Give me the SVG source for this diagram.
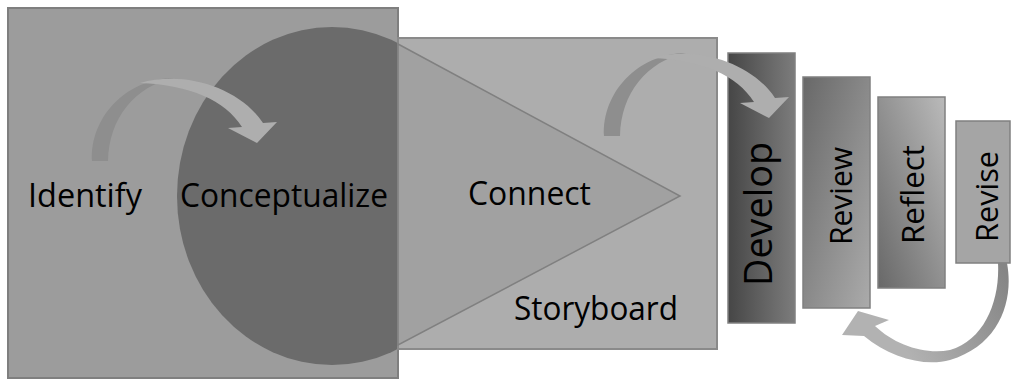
<svg xmlns="http://www.w3.org/2000/svg" width="1011" height="379" viewBox="0 0 1011 379">
<defs>
<linearGradient id="gDev" x1="0" y1="0" x2="1" y2="0"><stop offset="0" stop-color="#464646"/><stop offset="1" stop-color="#7c7c7c"/></linearGradient>
<linearGradient id="gRev" x1="0" y1="0" x2="1" y2="1"><stop offset="0" stop-color="#686868"/><stop offset="1" stop-color="#ababab"/></linearGradient>
<linearGradient id="gRef" x1="1" y1="0" x2="0" y2="1"><stop offset="0" stop-color="#bababa"/><stop offset="1" stop-color="#686868"/></linearGradient>
<linearGradient id="gLoop" gradientUnits="userSpaceOnUse" x1="1010" y1="280" x2="900" y2="340"><stop offset="0" stop-color="#858585"/><stop offset="1" stop-color="#b2b2b2"/></linearGradient>
<g id="curveArrow">
<path d="M92,161 C90,118 125,79 174,78 C135,86 109,118 108,161 Z" fill="#8e8e8e"/>
<path d="M140,83 C185,70 240,88 263,123 L277,122 L257,143 L228,128 L242,127 C225,100 190,85 140,83 Z" fill="#aeaeae"/>
</g>
</defs>
<style>
.lbl{font-family:"Open Sans","Noto Sans","Liberation Sans",sans-serif;fill:#000;}
.big{font-size:33px;}
.vert{font-size:31.5px;}
.box{stroke:#808080;stroke-width:1.5;}
</style>
<rect width="1011" height="379" fill="#ffffff"/>
<g id="identify">
<rect x="8" y="8" width="390" height="370" fill="#9c9c9c" stroke="#7f7f7f" stroke-width="2"/>
<text class="lbl big" x="28" y="207" textLength="114" lengthAdjust="spacingAndGlyphs">Identify</text>
</g>
<g id="conceptualize">
<ellipse cx="332" cy="196" rx="155" ry="169" fill="#6b6b6b"/>
</g>
<g id="storyboard">
<rect x="398" y="38" width="319" height="311" fill="#adadad" stroke="#8a8a8a" stroke-width="2"/>
<text class="lbl big" x="514" y="320" textLength="164" lengthAdjust="spacingAndGlyphs">Storyboard</text>
</g>
<g id="connect">
<polygon points="398,44 680,196 398,345" fill="#a1a1a1" stroke="#808080" stroke-width="1.5"/>
<text class="lbl big" x="468" y="205" textLength="123" lengthAdjust="spacingAndGlyphs">Connect</text>
</g>
<text class="lbl big" x="180" y="207" textLength="208" lengthAdjust="spacingAndGlyphs">Conceptualize</text>
<g id="develop">
<rect class="box" x="728" y="53" width="67" height="270" fill="url(#gDev)"/>
<text class="lbl" font-size="39" transform="translate(772,214) rotate(-90)" text-anchor="middle" textLength="144" lengthAdjust="spacingAndGlyphs">Develop</text>
</g>
<g id="review">
<rect class="box" x="803" y="77" width="67" height="231" fill="url(#gRev)"/>
<text class="lbl vert" transform="translate(852,196) rotate(-90)" text-anchor="middle" textLength="98" lengthAdjust="spacingAndGlyphs">Review</text>
</g>
<g id="reflect">
<rect class="box" x="878" y="97" width="67" height="191" fill="url(#gRef)"/>
<text class="lbl vert" transform="translate(924,194.5) rotate(-90)" text-anchor="middle" textLength="99" lengthAdjust="spacingAndGlyphs">Reflect</text>
</g>
<g id="revise">
<rect class="box" x="956" y="121" width="54" height="142" fill="#a5a5a5"/>
<text class="lbl vert" transform="translate(998,196.5) rotate(-90)" text-anchor="middle" textLength="91" lengthAdjust="spacingAndGlyphs">Revise</text>
</g>
<g id="connectors">
<use href="#curveArrow"/>
<use href="#curveArrow" transform="translate(512,-25)"/>
<path d="M1007,263 C1014,300 1000,345 950,360 C925,367 890,358 864,336 L842,335 L858,311 L889,320 L875,326 C895,345 925,355 950,350 C985,340 1000,300 998,263 Z" fill="url(#gLoop)"/>
</g>
</svg>
